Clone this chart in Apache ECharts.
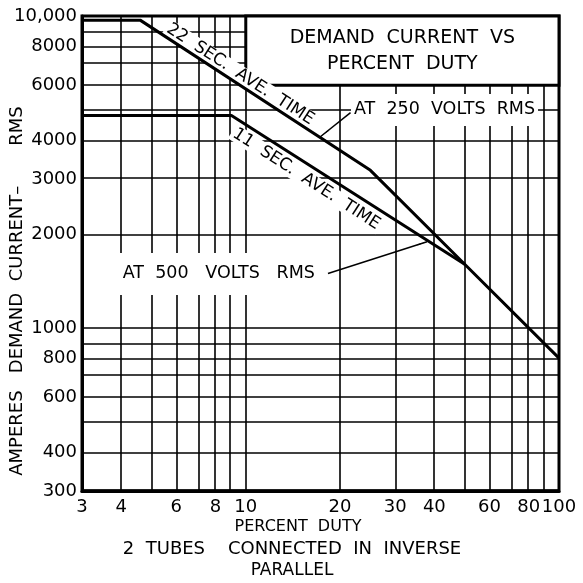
<!DOCTYPE html>
<html>
<head>
<meta charset="utf-8">
<script src="https://cdn.jsdelivr.net/npm/echarts@6.0.0/dist/echarts.min.js"></script>
<style>
html, body { margin: 0; padding: 0; background: #fff; }
#main { width: 583px; height: 583px; }
</style>
</head>
<body>
<div id="main"></div>
<script>
// percent duty vs amperes
var duty22 = [3, 4.6, 25, 50, 100];
var amps22 = [9700, 9700, 3200, 1600, 800];
var duty11 = [3, 9, 50];
var amps11 = [4800, 4800, 1600];

// grid lines and labelled ticks
var xGrid = [3, 4, 5, 6, 7, 8, 9, 10, 20, 30, 40, 50, 60, 70, 80, 90, 100];
var yGrid = [300, 400, 500, 600, 700, 800, 900, 1000, 2000, 3000, 4000, 5000, 6000, 7000, 8000, 9000, 10000];
var xTicks = [3, 4, 6, 8, 10, 20, 30, 40, 60, 80, 100];
var yTicks = [300, 400, 600, 800, 1000, 2000, 3000, 4000, 6000, 8000, 10000];

var FONT = 'DejaVu Sans';
var lg = Math.log10;

function back(v) {
    var n = Math.round(Math.pow(10, v));
    return n >= 10000 ? '10,000' : String(n);
}
function pts(xs, ys) {
    return xs.map(function (x, i) { return [lg(x), lg(ys[i])]; });
}

var myChart = echarts.init(document.getElementById('main'));

// text along the curves, white boxes blank the grid behind them
function note(text, x, y, rot, pad, size) {
    return {
        value: [lg(x), lg(y)],
        label: {
            show: true,
            position: 'inside',
            formatter: text,
            rotate: rot,
            color: '#000',
            opacity: 1,
            fontFamily: FONT,
            fontSize: size,
            backgroundColor: '#fff',
            padding: pad
        }
    };
}

var option = {
    animation: false,
    backgroundColor: '#fff',
    grid: {
        left: 82, right: 24, top: 16, bottom: 92,
        show: true, borderColor: '#000', borderWidth: 3
    },
    xAxis: {
        type: 'value',
        min: lg(3),
        max: lg(100),
        axisLine: { show: true, lineStyle: { color: '#000', width: 3 } },
        axisTick: { show: false },
        splitLine: { show: false },
        axisLabel: {
            customValues: xTicks.map(lg),
            formatter: back,
            color: '#000', fontFamily: FONT, fontSize: 18, margin: 7
        }
    },
    yAxis: {
        type: 'value',
        min: lg(300),
        max: lg(10000),
        axisLine: { show: true, lineStyle: { color: '#000', width: 3 } },
        axisTick: { show: false },
        splitLine: { show: false },
        axisLabel: {
            customValues: yTicks.map(lg),
            formatter: back,
            color: '#000', fontFamily: FONT, fontSize: 18, margin: 5
        }
    },
    graphic: [
        {
            type: 'text', x: 17, y: 291, rotation: Math.PI / 2,
            style: { text: 'AMPERES   DEMAND  CURRENT–       RMS', fontFamily: FONT, fontSize: 18, fill: '#000', align: 'center', verticalAlign: 'middle' }
        },
        {
            type: 'text', x: 298, y: 527,
            style: { text: 'PERCENT  DUTY', fontFamily: FONT, fontSize: 16, fill: '#000', align: 'center', verticalAlign: 'middle' }
        },
        {
            type: 'text', x: 292, y: 549,
            style: { text: '2  TUBES    CONNECTED  IN  INVERSE', fontFamily: FONT, fontSize: 18, fill: '#000', align: 'center', verticalAlign: 'middle' }
        },
        {
            type: 'text', x: 292, y: 571,
            style: { text: 'PARALLEL', fontFamily: FONT, fontSize: 17, fill: '#000', align: 'center', verticalAlign: 'middle' }
        }
    ],
    series: [
        {
            // log grid
            type: 'line',
            data: [],
            silent: true,
            markLine: {
                z: 1,
                silent: true,
                symbol: 'none',
                label: { show: false },
                lineStyle: { color: '#000', width: 1.6, type: 'solid' },
                data: xGrid.map(function (v) { return { xAxis: lg(v) }; })
                    .concat(yGrid.map(function (v) { return { yAxis: lg(v) }; }))
            }
        },
        {
            // title box
            type: 'line',
            data: [],
            silent: true,
            markArea: {
                z: 2,
                silent: true,
                itemStyle: { color: '#fff', borderColor: '#000', borderWidth: 3 },
                label: {
                    show: true,
                    position: 'inside',
                    formatter: 'DEMAND  CURRENT  VS\nPERCENT  DUTY',
                    color: '#000', fontFamily: FONT, fontSize: 19, lineHeight: 26
                },
                data: [[
                    { xAxis: lg(10), yAxis: lg(6000) },
                    { xAxis: lg(100), yAxis: lg(10000) }
                ]]
            }
        },
        {
            type: 'scatter',
            z: 3,
            silent: true,
            symbolSize: 1,
            itemStyle: { color: 'rgba(0,0,0,0)', opacity: 1 },
            data: [
                note('22  SEC.  AVE.  TIME', 9.6, 6500, -33, [0, 2], 17),
                note('11  SEC.  AVE.  TIME', 15.6, 3000, -33, [0, 2], 17),
                note('AT  250  VOLTS  RMS', 43.1, 5000, 0, [7, 3], 17.5),
                note('AT  500   VOLTS   RMS', 8.2, 1490, 0, [12, 4], 17.5)
            ]
        },
        {
            name: '22 sec',
            type: 'line',
            z: 4,
            silent: true,
            symbol: 'none',
            lineStyle: { color: '#000', width: 3 },
            data: pts(duty22, amps22)
        },
        {
            name: '11 sec',
            type: 'line',
            z: 4,
            silent: true,
            symbol: 'none',
            lineStyle: { color: '#000', width: 3 },
            data: pts(duty11, amps11)
        },
        {
            // leader arrows
            type: 'line',
            data: [],
            silent: true,
            markLine: {
                z: 5,
                silent: true,
                symbol: ['none', 'arrow'],
                symbolSize: [1, 11],
                label: { show: false },
                lineStyle: { color: '#000', width: 1.5, type: 'solid' },
                data: [
                    [{ coord: [lg(21.6), lg(4900)] }, { coord: [lg(17.3), lg(4100)] }],
                    [{ coord: [lg(18.3), lg(1495)] }, { coord: [lg(37.9), lg(1890)] }]
                ]
            }
        }
    ]
};

myChart.setOption(option);
</script>
</body>
</html>
